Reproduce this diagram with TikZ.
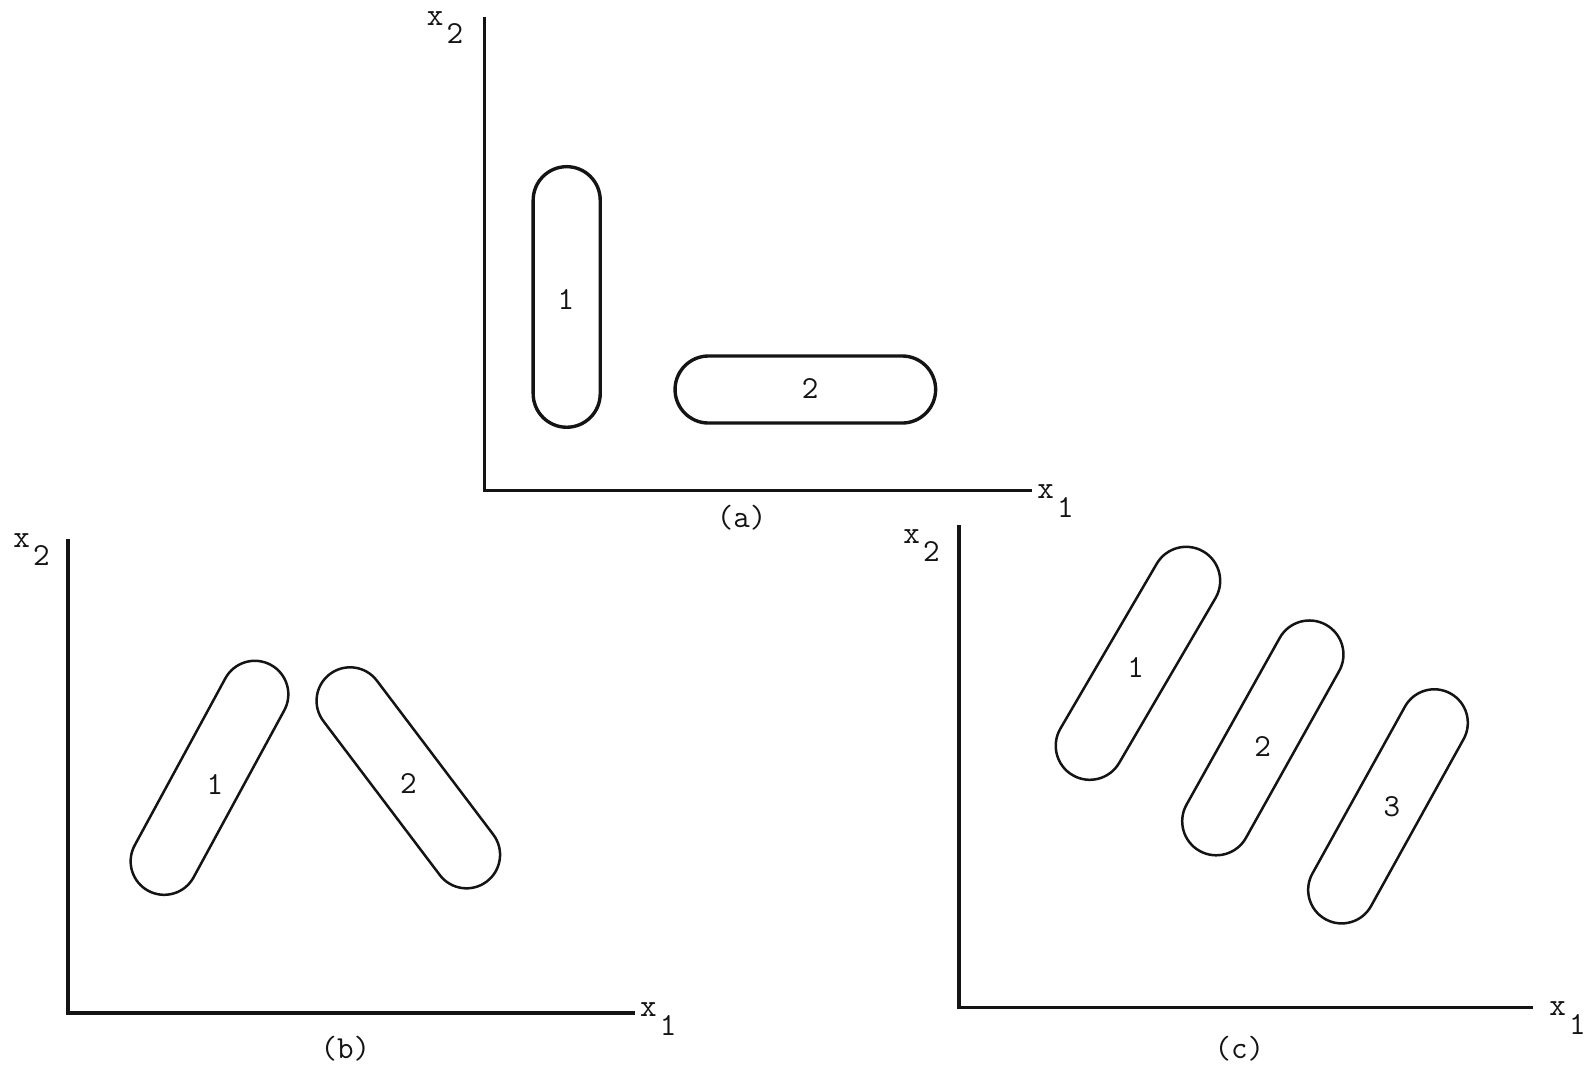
\documentclass[tikz,border=0pt]{standalone}
\usepackage{tikz}
\usetikzlibrary{shapes.misc}
\definecolor{ink}{HTML}{141414}
\tikzset{
  axisline/.style={draw=ink, line width=1.8pt},
  capsule/.style={rounded rectangle, draw=ink, line width=1.4pt, minimum height=13.2mm, inner sep=0pt, outer sep=0pt},
  boldcapsule/.style={capsule, line width=1.9pt},
  numtag/.style={font=\ttfamily\fontsize{18}{21}\selectfont, text=ink, inner sep=0pt},
  axlabel/.style={numtag},
  panel/.style={numtag}
}
\newcommand{\axname}[1]{x\hspace{0.1em}\raisebox{-0.58em}{#1}}

\begin{document}
\begin{tikzpicture}[x=0.2mm, y=-0.2mm]
\useasboundingbox (0,0) rectangle (1568,1051);
% panel (a)
\coordinate (atop) at (477,17); \coordinate (aend) at (1016,483);
\draw[axisline] (atop) |- (aend);
\node[axlabel] (ax2) at (438,27) {\axname{2}};
\node[axlabel] (ax1) at (1039,493) {\axname{1}};
\node[panel] (acap) at (730,509.5) {(a)};
\node[boldcapsule, rotate=90, minimum width=51.3mm] (a1) at (557.8,292.3) {};
\node[boldcapsule, minimum width=51.3mm] (a2) at (792.7,383.4) {};
\node[numtag] (a1num) at (557,295) {1};
\node[numtag] (a2num) at (797.5,382) {2};
% panel (b)
\coordinate (btop) at (67,531); \coordinate (bend) at (625,997);
\draw[axisline] (btop) |- (bend);
\node[axlabel] (bx2) at (31,541) {\axname{2}};
\node[axlabel] (bx1) at (648,1003) {\axname{1}};
\node[panel] (bcap) at (340,1032) {(b)};
\node[capsule, rotate=61.5, minimum width=50.6mm] (b1) at (206.2,765.6) {};
\node[capsule, rotate=-52.9, minimum width=51.2mm] (b2) at (401.9,765.6) {};
\node[numtag] (b1num) at (211.6,771.7) {1};
\node[numtag] (b2num) at (401.9,771) {2};
% panel (c)
\coordinate (ctop) at (944,517); \coordinate (cend) at (1509,992);
\draw[axisline] (ctop) |- (cend);
\node[axlabel] (cx2) at (907,537) {\axname{2}};
\node[axlabel] (cx1) at (1543,1002) {\axname{1}};
\node[panel] (ccap) at (1220,1032) {(c)};
\node[capsule, rotate=59.7, minimum width=51mm, minimum height=13.4mm] (c1) at (1120.1,652.9) {};
\node[capsule, rotate=60.8, minimum width=51mm, minimum height=13.4mm] (c2) at (1243,726.3) {};
\node[capsule, rotate=61, minimum width=50.8mm] (c3) at (1366.2,793.7) {};
\node[numtag] (c1num) at (1117.8,656.8) {1};
\node[numtag] (c2num) at (1242.8,734.3) {2};
\node[numtag] (c3num) at (1370,794) {3};
\end{tikzpicture}
\end{document}
